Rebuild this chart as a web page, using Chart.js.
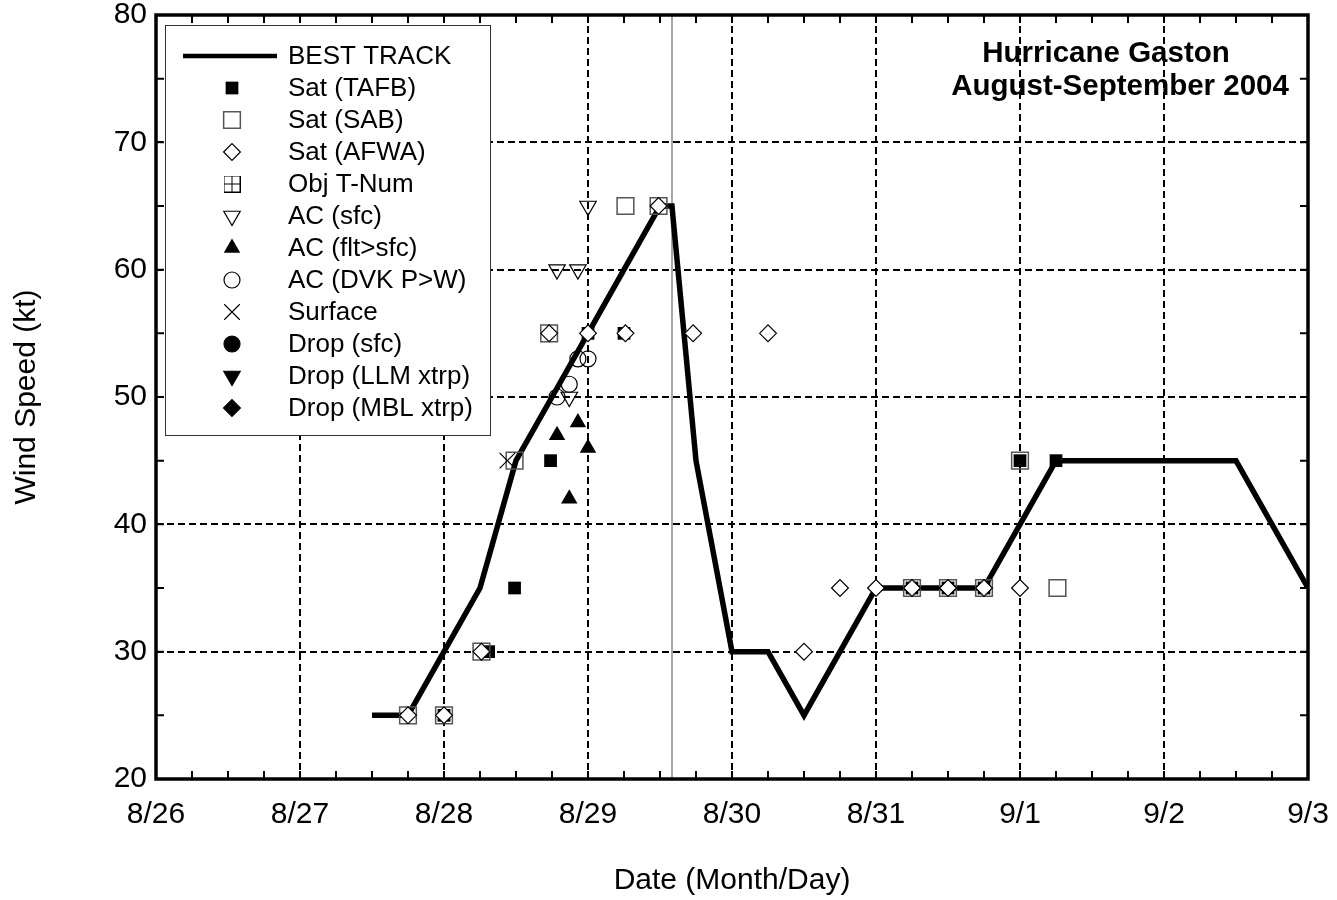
<!DOCTYPE html>
<html>
<head>
<meta charset="utf-8">
<title>Hurricane Gaston August-September 2004</title>
<script src="https://cdn.jsdelivr.net/npm/chart.js@4.4.1/dist/chart.umd.min.js"></script>
<style>
  html, body { margin: 0; padding: 0; background: #fff; }
  #wrap { width: 1337px; height: 900px; }
</style>
</head>
<body>
<div id="wrap"><canvas id="windChart" width="1337" height="900"></canvas></div>
<script>
// x values are days after 8/26 00 UTC
const dayLabels = ['8/26', '8/27', '8/28', '8/29', '8/30', '8/31', '9/1', '9/2', '9/3'];

const bestTrackDays = [1.5, 1.75, 2.0, 2.25, 2.5, 2.75, 3.0, 3.25, 3.5, 3.583, 3.75, 4.0, 4.25, 4.5, 4.75, 5.0,
                       5.25, 5.5, 5.75, 6.0, 6.25, 6.5, 6.75, 7.0, 7.25, 7.5, 7.75, 8.0];
const bestTrackKt = [25, 25, 30, 35, 45, 50, 55, 60, 65, 65, 45, 30, 30, 25, 30, 35,
                     35, 35, 35, 40, 45, 45, 45, 45, 45, 45, 40, 35];
const landfallDay = 3 + 14 / 24;

const tafbDays = [2.0, 2.31, 2.49, 2.74, 3.0, 3.25, 5.25, 5.5, 5.75, 6.0, 6.25];
const tafbKt = [25, 30, 35, 45, 55, 55, 35, 35, 35, 45, 45];
const sabDays = [1.75, 2.0, 2.26, 2.49, 2.73, 3.26, 3.49, 5.25, 5.5, 5.75, 6.0, 6.26];
const sabKt = [25, 25, 30, 45, 55, 65, 65, 35, 35, 35, 45, 35];
const afwaDays = [1.75, 2.0, 2.26, 2.73, 3.0, 3.26, 3.49, 3.73, 4.25, 4.5, 4.75, 5.0, 5.25, 5.5, 5.75, 6.0];
const afwaKt = [25, 25, 30, 55, 55, 55, 65, 55, 55, 30, 35, 35, 35, 35, 35, 35];
const objTnumDays = [];
const objTnumKt = [];
const acSfcDays = [2.785, 2.87, 2.93, 3.0];
const acSfcKt = [60, 50, 60, 65];
const acFltDays = [2.785, 2.87, 2.93, 3.0];
const acFltKt = [47, 42, 48, 46];
const dvkDays = [2.785, 2.87, 2.93, 3.0];
const dvkKt = [50, 51, 53, 53];
const surfaceDays = [2.44];
const surfaceKt = [45];
const dropSfcDays = [];
const dropSfcKt = [];
const dropLlmDays = [];
const dropLlmKt = [];
const dropMblDays = [];
const dropMblKt = [];

function toPoints(days, kt) {
    return days.map((d, i) => ({ x: d, y: kt[i] }));
}

function boxPlusIcon() {
    const c = document.createElement('canvas');
    c.width = 17;
    c.height = 17;
    const g = c.getContext('2d');
    g.strokeStyle = '#000';
    g.lineWidth = 1;
    g.strokeRect(0.5, 0.5, 16, 16);
    g.beginPath();
    g.moveTo(8.5, 0); g.lineTo(8.5, 17);
    g.moveTo(0, 8.5); g.lineTo(17, 8.5);
    g.stroke();
    return c;
}

function markerSet(label, days, kt, style) {
    return Object.assign({
        label: label,
        data: toPoints(days, kt),
        showLine: false,
        pointBorderColor: '#000',
        pointBackgroundColor: '#000',
        pointBorderWidth: 1.2,
        pointRotation: 0,
        order: 2,
    }, style);
}

const open = 'rgba(0,0,0,0)';

const datasets = [
    {
        label: 'BEST TRACK',
        data: toPoints(bestTrackDays, bestTrackKt),
        showLine: true,
        borderColor: '#000',
        borderWidth: 5.5,
        borderJoinStyle: 'miter',
        pointRadius: 0,
        tension: 0,
        order: 20,
    },
    markerSet('Sat (TAFB)', tafbDays, tafbKt, { pointStyle: 'rect', pointRadius: 9, pointBorderWidth: 0, order: 6 }),
    markerSet('Sat (SAB)', sabDays, sabKt, { pointStyle: 'rect', pointRadius: 11.8, pointBackgroundColor: open, pointBorderColor: '#555', pointBorderWidth: 1.5, order: 5 }),
    markerSet('Sat (AFWA)', afwaDays, afwaKt, { pointStyle: 'rectRot', pointRadius: 8.4, pointBackgroundColor: '#fff', order: 4 }),
    markerSet('Obj T-Num', objTnumDays, objTnumKt, { pointStyle: boxPlusIcon(), pointRadius: 8.5 }),
    markerSet('AC (sfc)', acSfcDays, acSfcKt, { pointStyle: 'triangle', pointRotation: 180, pointRadius: 9.5, pointBackgroundColor: open }),
    markerSet('AC (flt>sfc)', acFltDays, acFltKt, { pointStyle: 'triangle', pointRadius: 9.5, pointBorderWidth: 0 }),
    markerSet('AC (DVK P>W)', dvkDays, dvkKt, { pointStyle: 'circle', pointRadius: 8, pointBackgroundColor: open }),
    markerSet('Surface', surfaceDays, surfaceKt, { pointStyle: 'crossRot', pointRadius: 11 }),
    markerSet('Drop (sfc)', dropSfcDays, dropSfcKt, { pointStyle: 'circle', pointRadius: 8 }),
    markerSet('Drop (LLM xtrp)', dropLlmDays, dropLlmKt, { pointStyle: 'triangle', pointRotation: 180, pointRadius: 9.5 }),
    markerSet('Drop (MBL xtrp)', dropMblDays, dropMblKt, { pointStyle: 'rectRot', pointRadius: 8.4 }),
    {
        label: 'Landfall',
        hideInLegend: true,
        data: [{ x: landfallDay, y: 20 }, { x: landfallDay, y: 80 }],
        showLine: true,
        borderColor: '#777',
        borderWidth: 1.3,
        pointRadius: 0,
        order: 21,
    },
];

// plot frame with inward ticks on all four sides, plus the title
const framePlugin = {
    id: 'frame',
    afterDatasetsDraw(chart) {
        const { ctx, chartArea: a, scales } = chart;
        const x = scales.x, y = scales.y;
        ctx.save();
        ctx.strokeStyle = '#000';
        ctx.lineWidth = 2;
        ctx.beginPath();
        for (let d = 0; d <= 8; d += 0.25) {
            const px = x.getPixelForValue(d);
            ctx.moveTo(px, a.bottom); ctx.lineTo(px, a.bottom - 8);
            ctx.moveTo(px, a.top); ctx.lineTo(px, a.top + 8);
        }
        for (let v = 20; v <= 80; v += 5) {
            const py = y.getPixelForValue(v);
            ctx.moveTo(a.left, py); ctx.lineTo(a.left + 8, py);
            ctx.moveTo(a.right, py); ctx.lineTo(a.right - 8, py);
        }
        ctx.stroke();
        ctx.lineWidth = 3.5;
        ctx.strokeRect(a.left, a.top, a.right - a.left, a.bottom - a.top);

        ctx.fillStyle = '#000';
        ctx.font = 'bold 29.5px "Liberation Sans", Arial, sans-serif';
        ctx.textAlign = 'center';
        ctx.textBaseline = 'middle';
        ctx.fillText('Hurricane Gaston', a.right - 202, a.top + 39);
        ctx.fillText('August-September 2004', a.right - 188, a.top + 72);
        ctx.restore();
    }
};

const legendPlugin = {
    id: 'boxLegend',
    afterDraw(chart) {
        const { ctx, chartArea: a } = chart;
        const left = a.left + 9, top = a.top + 10;
        ctx.save();
        ctx.fillStyle = '#fff';
        ctx.fillRect(left, top, 325, 410);
        ctx.strokeStyle = '#333';
        ctx.lineWidth = 1;
        ctx.strokeRect(left + 0.5, top + 0.5, 325, 410);

        ctx.font = '26px "Liberation Sans", Arial, sans-serif';
        ctx.textBaseline = 'middle';
        let rowY = top + 31;
        chart.data.datasets.forEach(ds => {
            if (ds.hideInLegend) return;
            if (ds.showLine) {
                ctx.strokeStyle = ds.borderColor;
                ctx.lineWidth = 4.5;
                ctx.beginPath();
                ctx.moveTo(left + 18, rowY);
                ctx.lineTo(left + 112, rowY);
                ctx.stroke();
            } else {
                ctx.fillStyle = ds.pointBackgroundColor;
                ctx.strokeStyle = ds.pointBorderColor;
                ctx.lineWidth = ds.pointBorderWidth;
                Chart.helpers.drawPoint(ctx, {
                    pointStyle: ds.pointStyle,
                    radius: ds.pointRadius,
                    rotation: ds.pointRotation,
                    borderWidth: ds.pointBorderWidth,
                }, left + 67, rowY);
            }
            ctx.fillStyle = '#000';
            ctx.fillText(ds.label, left + 123, rowY + 1);
            rowY += 32;
        });
        ctx.restore();
    }
};

Chart.defaults.font.family = '"Liberation Sans", Arial, Helvetica, sans-serif';
Chart.defaults.color = '#000';

new Chart(document.getElementById('windChart').getContext('2d'), {
    type: 'scatter',
    data: { datasets: datasets },
    options: {
        responsive: false,
        animation: false,
        devicePixelRatio: 1,
        events: [],
        layout: { padding: { top: 15, right: 29, left: 0, bottom: 0 } },
        plugins: {
            legend: { display: false },
            tooltip: { enabled: false },
        },
        scales: {
            x: {
                type: 'linear',
                min: 0,
                max: 8,
                afterFit(scale) {
                    scale.height = 121;
                    scale.paddingLeft = 0;
                    scale.paddingRight = 0;
                },
                ticks: {
                    stepSize: 1,
                    autoSkip: false,
                    maxRotation: 0,
                    padding: 18,
                    font: { size: 30 },
                    callback: v => dayLabels[Math.round(v)],
                },
                grid: { color: '#000', lineWidth: 2, drawTicks: false },
                border: { display: false, dash: [7, 4] },
                title: { display: true, text: 'Date (Month/Day)', font: { size: 30 }, padding: { top: 0, bottom: 1 } },
            },
            y: {
                min: 20,
                max: 80,
                afterFit(scale) {
                    scale.width = 156;
                    scale.paddingTop = 0;
                    scale.paddingBottom = 0;
                },
                ticks: { stepSize: 10, padding: 9, font: { size: 30 } },
                grid: { color: '#000', lineWidth: 2, drawTicks: false },
                border: { display: false, dash: [7, 4] },
                title: { display: true, text: 'Wind Speed (kt)', font: { size: 30 }, padding: { top: 9, bottom: 0 } },
            },
        },
    },
    plugins: [framePlugin, legendPlugin],
});
</script>
</body>
</html>
